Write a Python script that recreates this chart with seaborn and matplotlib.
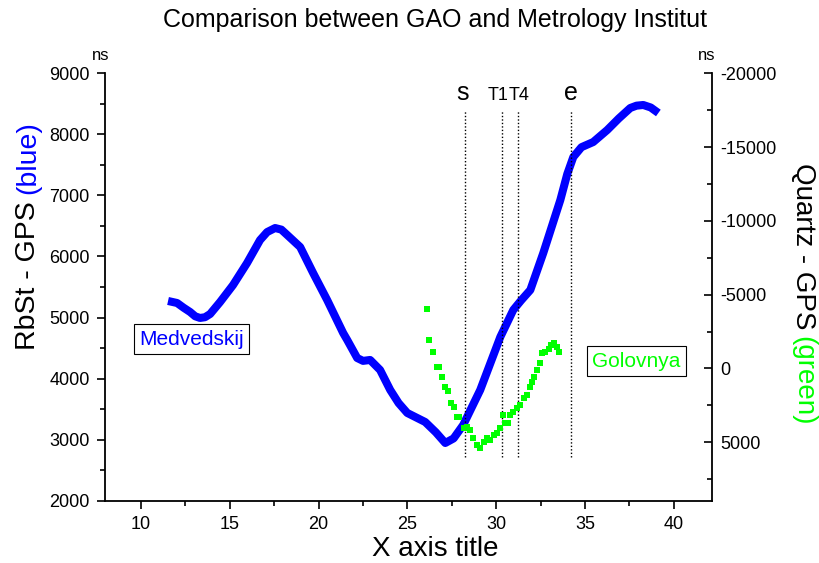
import matplotlib
matplotlib.use("Agg")
import matplotlib.pyplot as plt
import seaborn as sns
from matplotlib.ticker import MultipleLocator

# RbSt - GPS (blue curve, left axis, ns)
blue_x = [11.52, 12.03, 12.40, 12.76, 13.05, 13.32, 13.60, 13.89, 14.45, 15.18,
          15.97, 16.70, 17.10, 17.55, 17.90, 18.23, 18.96, 19.69, 20.48, 21.38,
          21.61, 22.17, 22.50, 22.90, 23.46, 24.03, 24.50, 24.99, 26.00, 26.60,
          27.13, 27.60, 28.14, 29.10, 30.23, 30.96, 31.40, 31.92, 32.65, 33.61,
          34.00, 34.34, 34.80, 35.46, 36.25, 36.90, 37.55, 37.90, 38.28, 38.70,
          39.13]
blue_y = [5271, 5238, 5160, 5091, 5020, 4993, 5005, 5058, 5254, 5532,
          5893, 6269, 6400, 6466, 6440, 6352, 6155, 5729, 5287, 4747,
          4632, 4337, 4290, 4305, 4141, 3814, 3600, 3437, 3289, 3120,
          2945, 3020, 3240, 3814, 4682, 5124, 5280, 5451, 6057, 6925,
          7350, 7629, 7790, 7874, 8071, 8260, 8432, 8470, 8481, 8440,
          8350]

# Quartz - GPS (green points, right axis, ns)
green_x = [26.10, 26.23, 26.43, 26.66, 26.78, 26.94, 27.13, 27.26, 27.45, 27.63,
           27.79, 27.93, 28.16, 28.35, 28.53, 28.72, 28.91, 29.10, 29.29, 29.48,
           29.66, 29.85, 30.04, 30.23, 30.38, 30.51, 30.69, 30.79, 30.97, 31.17,
           31.35, 31.54, 31.73, 31.92, 32.01, 32.14, 32.29, 32.44, 32.58, 32.76,
           32.95, 33.10, 33.27, 33.42, 33.51]
green_y = [-4011, -1931, -1138, -122, -122, 556, 1233, 1504, 2358, 2588,
           3266, 3266, 4051, 3943, 4167, 4729, 5183, 5407, 4959, 4729,
           4844, 4505, 4390, 4051, 3150, 3713, 3713, 3150, 2927, 2696,
           2473, 2019, 1795, 1233, 894, 556, 102, -352, -1030, -1138,
           -1301, -1592, -1707, -1477, -1138]

# event markers
marker_x = [28.25, 30.32, 31.20, 34.23]
marker_labels = ["s", "T1", "T4", "e"]
marker_label_x = [28.10, 30.10, 31.30, 34.21]
marker_label_size = [18, 13, 13, 18]

BLUE = "#0000ff"
GREEN = "#00ff00"

sns.set_style("ticks")
plt.rcParams["font.family"] = ["Liberation Sans", "DejaVu Sans"]
plt.rcParams["axes.unicode_minus"] = False
plt.rcParams["text.color"] = "black"
plt.rcParams["axes.edgecolor"] = "black"
plt.rcParams["axes.labelcolor"] = "black"
plt.rcParams["xtick.color"] = "black"
plt.rcParams["ytick.color"] = "black"

W, H = 819, 563
fig = plt.figure(figsize=(W / 100, H / 100), dpi=100)
ax = fig.add_axes([105 / W, 1 - 500.7 / H, 607 / W, 427.4 / H])
ax2 = ax.twinx()

sns.lineplot(x=blue_x, y=blue_y, ax=ax, color=BLUE, lw=5.8, sort=False,
             solid_joinstyle="round", solid_capstyle="butt")
sns.scatterplot(x=green_x, y=green_y, ax=ax2, color=GREEN, marker="s", s=16,
                linewidth=0)

# dotted event lines with their labels
ax.vlines(marker_x, 2714, 8397, colors="black", linestyles=(0, (1, 1.5)), lw=1)
for lx, lab, fs in zip(marker_label_x, marker_labels, marker_label_size):
    ax.text(lx, 8563, lab, ha="center", va="baseline", fontsize=fs)

# labelled boxes
ax.text(12.82, 4648, "Medvedskij", color=BLUE, fontsize=15, ha="center", va="center",
        bbox=dict(boxstyle="square,pad=0.25", fc="white", ec="black", lw=0.8))
ax.text(37.89, 4288, "Golovnya", color=GREEN, fontsize=15, ha="center", va="center",
        bbox=dict(boxstyle="square,pad=0.25", fc="white", ec="black", lw=0.8))

# axes limits and ticks
ax.set_xlim(7.97, 42.15)
ax.set_ylim(2000, 9000)
ax2.set_ylim(8960, -20000)
ax.xaxis.set_major_locator(MultipleLocator(5))
ax.xaxis.set_minor_locator(MultipleLocator(2.5))
ax.yaxis.set_major_locator(MultipleLocator(1000))
ax.yaxis.set_minor_locator(MultipleLocator(500))
ax2.yaxis.set_major_locator(MultipleLocator(5000))
ax2.yaxis.set_minor_locator(MultipleLocator(2500))

ax.tick_params(which="major", direction="out", length=6, width=1.2, labelsize=13, pad=5)
ax.tick_params(which="minor", direction="out", length=3.5, width=1.2)
ax2.tick_params(which="major", direction="in", length=5.5, width=1.2, labelsize=13, pad=6)
ax2.tick_params(which="minor", direction="in", length=3.5, width=1.2)
ax.set_xlabel("")
ax.set_ylabel("")
ax2.set_ylabel("")

for side in ["top", "right"]:
    ax.spines[side].set_visible(False)
for side in ["top", "left", "bottom"]:
    ax2.spines[side].set_visible(False)
ax.spines["left"].set_linewidth(1.3)
ax.spines["bottom"].set_linewidth(1.3)
ax2.spines["right"].set_linewidth(1.3)

# titles and units
fig.text(435 / W, 1 - 20 / H, "Comparison between GAO and Metrology Institut",
         ha="center", va="center", fontsize=18)
fig.text(435 / W, 1 - 549 / H, "X axis title", ha="center", va="center", fontsize=20)
fig.text(101 / W, 1 - 55 / H, "ns", ha="center", va="center", fontsize=12)
fig.text(707 / W, 1 - 55 / H, "ns", ha="center", va="center", fontsize=12)

# two-coloured y labels
fig.canvas.draw()
t1 = fig.text(28 / W, 1 - 350 / H, "RbSt - GPS", rotation=90, fontsize=20.5,
              ha="center", va="bottom")
bb = t1.get_window_extent(fig.canvas.get_renderer())
fig.text(28 / W, (bb.y1 + 7) / H, "(blue)", rotation=90, fontsize=20.5,
         ha="center", va="bottom", color=BLUE)

t3 = fig.text(803 / W, 1 - 163 / H, "Quartz - GPS", rotation=-90, fontsize=20,
              ha="center", va="top")
bb = t3.get_window_extent(fig.canvas.get_renderer())
fig.text(803 / W, (bb.y0 - 7) / H, "(green)", rotation=-90, fontsize=20,
         ha="center", va="top", color=GREEN)

fig.savefig("out.png", dpi=100)
